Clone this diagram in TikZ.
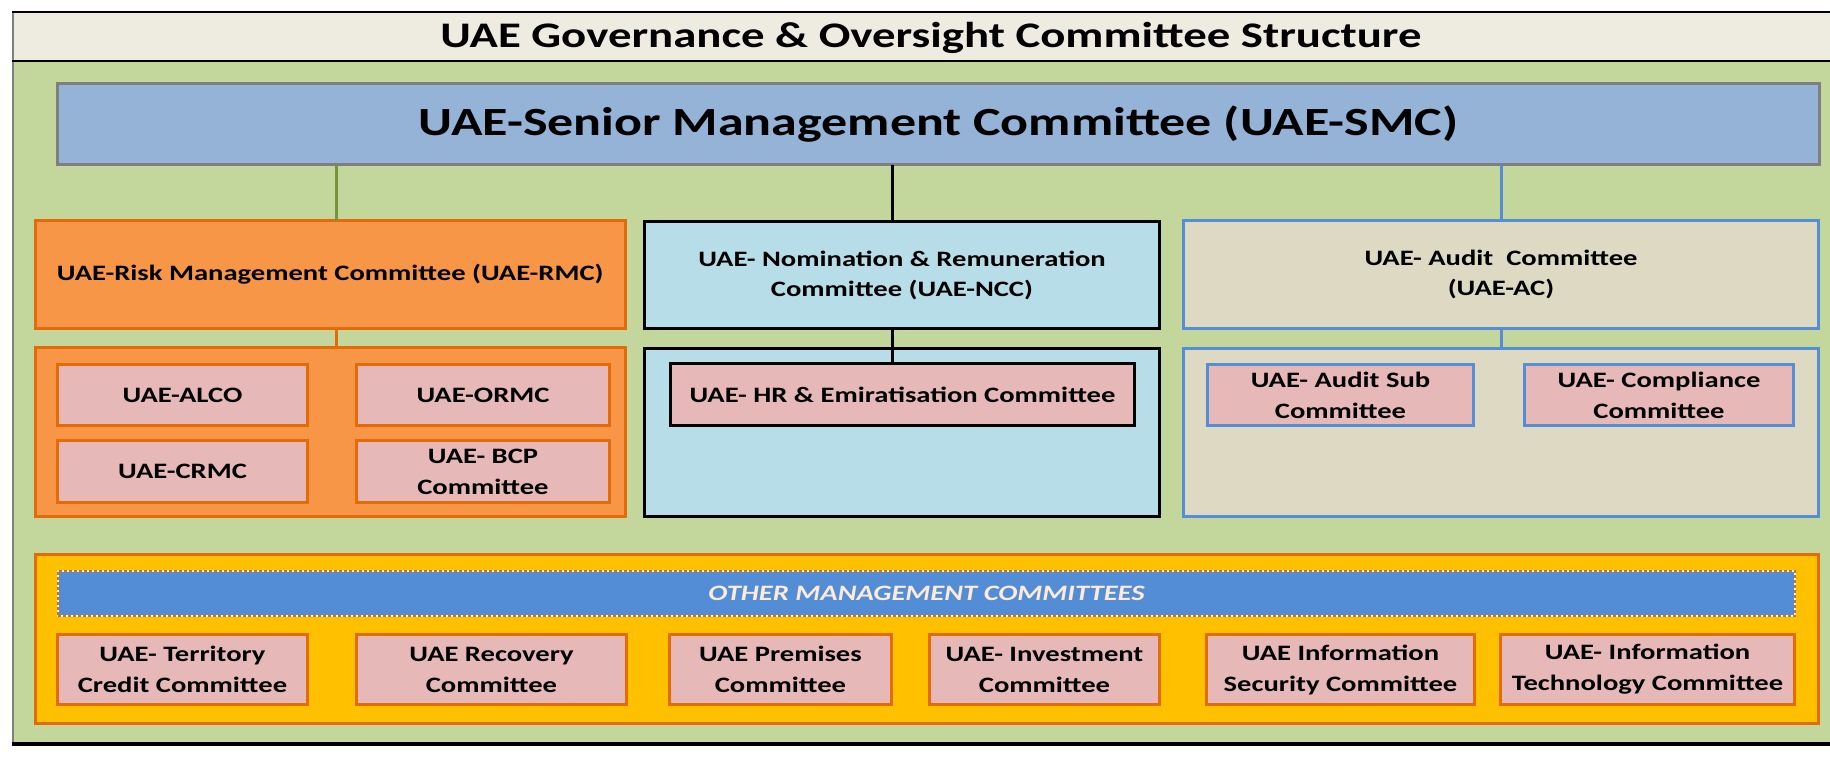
\documentclass[tikz,border=0pt]{standalone}
\usepackage{fontspec}
\setmainfont{Carlito}[FakeStretch=1.3]
\definecolor{titlefill}{HTML}{EEECE1}
\definecolor{bggreen}{HTML}{C3D69B}
\definecolor{smcfill}{HTML}{95B3D7}
\definecolor{smcline}{HTML}{7F7F7F}
\definecolor{rmcfill}{HTML}{F79646}
\definecolor{orline}{HTML}{E36C09}
\definecolor{pinkfill}{HTML}{E6B9B8}
\definecolor{nccfill}{HTML}{B7DEE8}
\definecolor{acfill}{HTML}{DDD9C3}
\definecolor{acline}{HTML}{558ED5}
\definecolor{otherfill}{HTML}{FFC000}
\definecolor{bandblue}{HTML}{538DD5}
\definecolor{bandtext}{HTML}{FDEADA}
\definecolor{greenline}{HTML}{77933C}
\newcommand\bx[7]{\node[#1, anchor=north west, minimum width={#5pt-#3pt-3pt}, minimum height={#6pt-#4pt-3pt}] (#2) at ({#3+1.5},{#4+1.5}) {#7};}
\begin{document}
\begin{tikzpicture}[x=1pt,y=-1pt,
  every node/.style={outer sep=0pt, inner sep=0pt, align=center, text=black},
  boxbase/.style={draw, line width=3pt},
  smcbox/.style={boxbase, draw=smcline, fill=smcfill, font=\fontsize{40}{44}\selectfont\bfseries},
  rmcbox/.style={boxbase, draw=orline, fill=rmcfill, font=\fontsize{22}{30}\selectfont\bfseries},
  nccbox/.style={boxbase, draw=black, fill=nccfill, font=\fontsize{22}{30}\selectfont\bfseries},
  acbox/.style={boxbase, draw=acline, fill=acfill, font=\fontsize{22}{30}\selectfont\bfseries},
  rsub/.style={boxbase, draw=orline, fill=pinkfill, font=\fontsize{22}{31}\selectfont\bfseries},
  nsub/.style={boxbase, draw=black, fill=pinkfill, font=\fontsize{22}{31}\selectfont\bfseries},
  asub/.style={boxbase, draw=acline, fill=pinkfill, font=\fontsize{22}{31}\selectfont\bfseries},
  otherbox/.style={boxbase, draw=orline, fill=otherfill},
  band/.style={fill=bandblue, draw=white, line width=2pt, text=bandtext, font=\fontsize{22}{26}\selectfont\bfseries\itshape, postaction={draw=orline, line width=2pt, dash pattern=on 3pt off 2pt}},
  conn/.style={line width=3pt}
]
\useasboundingbox (0,0) rectangle (1830,774);
\clip (0,0) rectangle (1830,774);
% frame
\fill[titlefill] (13,12) rectangle (1840,61);
\fill[bggreen] (13,61) rectangle (1840,744);
\draw[line width=1.5pt, smcline] (13,12) -- (13,744);
\draw[line width=1.6pt] (12,12) -- (1840,12);
\draw[line width=2.6pt] (12,61) -- (1840,61);
\draw[line width=3.6pt] (12,744) -- (1840,744);
\node[font=\fontsize{36}{40}\selectfont\bfseries] (title) at (931,38) {UAE Governance \& Oversight Committee Structure};
% top level
\bx{smcbox}{smc}{56}{82}{1821}{166}{UAE-Senior Management Committee (UAE-SMC)}
\bx{rmcbox}{rmc}{33.5}{219}{627}{330}{UAE-Risk Management Committee (UAE-RMC)}
\bx{nccbox}{ncc}{643}{220}{1161}{330}{UAE- Nomination \& Remuneration\\Committee (UAE-NCC)}
\bx{acbox}{ac}{1182}{219}{1820}{330}{UAE- Audit~ Committee\\(UAE-AC)}
% containers
\bx{rmcbox}{rmcsub}{33.5}{346}{627}{518}{}
\bx{nccbox}{nccsub}{643}{347}{1161}{518}{}
\bx{acbox}{acsub}{1182}{347}{1820}{518}{}
% sub committees
\bx{rsub}{alco}{56}{363}{309}{427}{UAE-ALCO}
\bx{rsub}{ormc}{355}{363}{611}{427}{UAE-ORMC}
\bx{rsub}{crmc}{56}{439}{309}{504}{UAE-CRMC}
\bx{rsub}{bcp}{355}{439}{611}{504}{UAE- BCP\\Committee}
\bx{nsub}{hr}{669}{362}{1136}{427}{UAE- HR \& Emiratisation Committee}
\bx{asub}{asc}{1206}{363}{1475}{427}{UAE- Audit Sub\\Committee}
\bx{asub}{comp}{1523}{363}{1795}{427}{UAE- Compliance\\Committee}
% other management committees
\bx{otherbox}{other}{33.5}{553}{1820}{725}{}
\node[band, anchor=north west, minimum width=1737pt, minimum height=45pt] (band) at (58,571) {OTHER MANAGEMENT COMMITTEES};
\bx{rsub}{terr}{56}{633}{309}{706}{UAE- Territory\\Credit Committee}
\bx{rsub}{recov}{355}{633}{628}{706}{UAE Recovery\\Committee}
\bx{rsub}{prem}{668}{633}{893}{706}{UAE Premises\\Committee}
\bx{rsub}{inv}{928}{633}{1161}{706}{UAE- Investment\\Committee}
\bx{rsub}{infosec}{1205}{633}{1476}{706}{UAE Information\\Security Committee}
\bx{rsub}{it}{1499}{633}{1796}{706}{UAE- Information\\Technology Committee}
% connectors
\draw[conn, greenline] ([xshift=6pt]rmc.north) -- ([xshift=6pt]rmc.north |- smc.south);
\draw[conn, black] ([xshift=-10pt]ncc.north) -- ([xshift=-10pt]ncc.north |- smc.south);
\draw[conn, acline] (ac.north) -- (ac.north |- smc.south);
\draw[conn, orline] ([xshift=6pt]rmc.south) -- ([xshift=6pt]rmc.south |- rmcsub.north);
\draw[conn, black] ([xshift=-10pt]ncc.south) -- ([xshift=-10pt]ncc.south |- hr.north);
\draw[conn, acline] (ac.south) -- (ac.south |- acsub.north);
\end{tikzpicture}
\end{document}
